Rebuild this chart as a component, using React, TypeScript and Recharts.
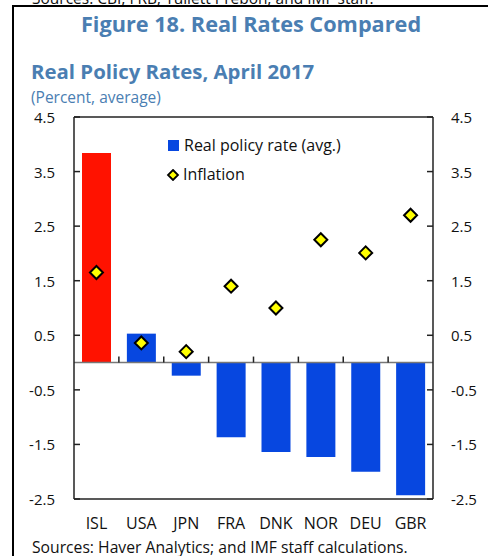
import {
  ComposedChart,
  Bar,
  Line,
  XAxis,
  YAxis,
  Cell,
  ReferenceLine,
} from "recharts";

const countries = ["ISL", "USA", "JPN", "FRA", "DNK", "NOR", "DEU", "GBR"];
const realPolicyRate = [3.84, 0.53, -0.24, -1.37, -1.64, -1.73, -2.0, -2.43];
const inflation = [1.65, 0.36, 0.2, 1.4, 1.0, 2.25, 2.01, 2.7];
const yTicks = [4.5, 3.5, 2.5, 1.5, 0.5, -0.5, -1.5, -2.5];
const highlighted = ["ISL"];

const BLUE = "#0747E0";
const RED = "#FF1200";
const TITLE = "#4A7EB2";
const FONT = "'Open Sans', 'Noto Sans', sans-serif";

const data = countries.map((c, i) => ({
  name: c,
  rate: realPolicyRate[i],
  inflation: inflation[i],
}));

const Diamond = (props: any) => {
  const { cx, cy } = props;
  if (cx == null || cy == null) return null;
  const r = 6.5;
  return (
    <polygon
      points={`${cx},${cy - r} ${cx + r},${cy} ${cx},${cy + r} ${cx - r},${cy}`}
      fill="#FFFF00"
      stroke="#000"
      strokeWidth={2}
    />
  );
};

const LeftTick = (p: any) => (
  <g>
    <line x1={p.x + 19} x2={p.x + 25} y1={p.y} y2={p.y} stroke="#222" strokeWidth={1.5} />
    <text
      x={p.x}
      y={p.y}
      textAnchor="end"
      dominantBaseline="central"
      fontSize={15}
      fontFamily={FONT}
      fill="#111"
    >
      {p.payload.value.toFixed(1)}
    </text>
  </g>
);

const RightTick = (p: any) => (
  <g>
    <line x1={p.x - 18} x2={p.x - 24} y1={p.y} y2={p.y} stroke="#222" strokeWidth={1.5} />
    <text
      x={p.x}
      y={p.y}
      textAnchor="start"
      dominantBaseline="central"
      fontSize={15}
      fontFamily={FONT}
      fill="#111"
    >
      {p.payload.value.toFixed(1)}
    </text>
  </g>
);

export default function App() {
  return (
    <div
      style={{
        position: "fixed",
        left: 0,
        top: 0,
        width: 488,
        height: 556,
        background: "#fff",
        overflow: "hidden",
        fontFamily: FONT,
      }}
    >
      <div style={{ position: "absolute", left: 32, top: -13, fontSize: 15.5, color: "#111", whiteSpace: "nowrap" }}>
        Sources: CBI; FRB; Tullett Prebon; and IMF staff.
      </div>
      <div style={{ position: "absolute", left: 12, top: 5, width: 476, height: 2, background: "#000" }} />
      <div style={{ position: "absolute", left: 12, top: 5, width: 2, height: 551, background: "#000" }} />
      <div
        style={{
          position: "absolute",
          left: 14,
          width: 474,
          top: 9,
          textAlign: "center",
          fontSize: 21.7,
          fontWeight: 700,
          color: TITLE,
          whiteSpace: "nowrap",
        }}
      >
        Figure 18. Real Rates Compared
      </div>
      <div style={{ position: "absolute", left: 31, top: 57, fontSize: 20.4, fontWeight: 700, color: TITLE, whiteSpace: "nowrap" }}>
        Real Policy Rates, April 2017
      </div>
      <div style={{ position: "absolute", left: 31, top: 86, fontSize: 15.5, color: TITLE, whiteSpace: "nowrap" }}>
        (Percent, average)
      </div>
      <div style={{ position: "absolute", left: 0, top: 0 }}>
        <ComposedChart
          width={488}
          height={556}
          data={data}
          margin={{ top: 117, right: 0, left: 0, bottom: 27 }}
        >
          <XAxis
            dataKey="name"
            height={30}
            axisLine={{ stroke: "#222", strokeWidth: 1.5 }}
            tickLine={false}
            tickSize={0}
            tickMargin={19}
            tick={{ fontSize: 16, fill: "#111", fontFamily: FONT }}
            interval={0}
          />
          <YAxis
            yAxisId="l"
            width={74}
            domain={[-2.5, 4.5]}
            ticks={yTicks}
            interval={0}
            allowDataOverflow
            tickSize={0}
            tickMargin={19}
            tick={<LeftTick />}
            tickLine={false}
            axisLine={{ stroke: "#222", strokeWidth: 1.5 }}
          />
          <YAxis
            yAxisId="r"
            orientation="right"
            width={55}
            domain={[-2.5, 4.5]}
            ticks={yTicks}
            interval={0}
            allowDataOverflow
            tickSize={0}
            tickMargin={18}
            tick={<RightTick />}
            tickLine={false}
            axisLine={{ stroke: "#222", strokeWidth: 1.5 }}
          />
          {/* top frame */}
          <ReferenceLine yAxisId="l" y={4.5} stroke="#222" strokeWidth={1.5} />
          <ReferenceLine yAxisId="l" y={0} stroke="#777" strokeWidth={1.5} />
          {/* small ticks between categories on the zero line */}
          {countries.slice(1).map((c) => (
            <ReferenceLine
              key={c}
              yAxisId="l"
              position="start"
              segment={[
                { x: c, y: 0 },
                { x: c, y: 0.11 },
              ]}
              stroke="#222"
              strokeWidth={1.5}
            />
          ))}
          <Bar yAxisId="l" dataKey="rate" barSize={29} isAnimationActive={false}>
            {data.map((d) => (
              <Cell key={d.name} fill={highlighted.includes(d.name) ? RED : BLUE} />
            ))}
          </Bar>
          <Line
            yAxisId="l"
            dataKey="inflation"
            stroke="none"
            dot={<Diamond />}
            activeDot={false}
            isAnimationActive={false}
          />
        </ComposedChart>
      </div>
      <div
        style={{
          position: "absolute",
          left: 166,
          top: 131,
          fontFamily: FONT,
          fontSize: 16,
          color: "#111",
          lineHeight: "29px",
        }}
      >
        <div style={{ display: "flex", alignItems: "center" }}>
          <span style={{ width: 11, height: 11, background: BLUE, display: "inline-block", marginRight: 5, marginLeft: 2 }} />
          Real policy rate (avg.)
        </div>
        <div style={{ display: "flex", alignItems: "center" }}>
          <svg width={15} height={12} style={{ marginRight: 2 }}>
            <polygon points="7,1 12,6 7,11 2,6" fill="#FFFF00" stroke="#000" strokeWidth={1.8} />
          </svg>
          Inflation
        </div>
      </div>
      <div style={{ position: "absolute", left: 32, top: 536, fontSize: 15.7, color: "#111", whiteSpace: "nowrap" }}>
        Sources: Haver Analytics; and IMF staff calculations.
      </div>
    </div>
  );
}
